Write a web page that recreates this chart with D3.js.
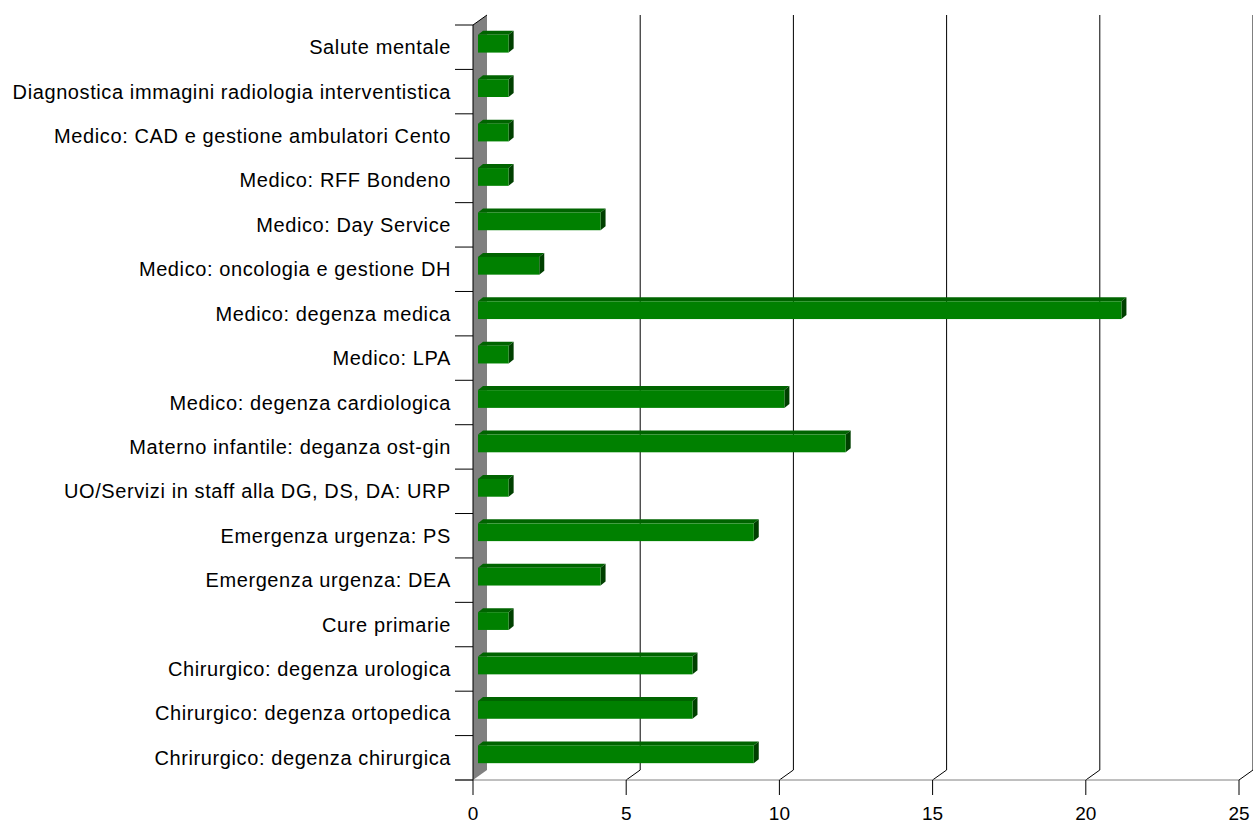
<!DOCTYPE html>
<html>
<head>
<meta charset="utf-8">
<script src="https://cdn.jsdelivr.net/npm/d3@7"></script>
<style>
  body { margin: 0; background: #fff; }
  text { font-family: "Liberation Sans", Arial, sans-serif; }
</style>
</head>
<body>
<svg id="plot" width="1253" height="825"></svg>
<script>
//categories top to bottom, as in the picture
let categories = [
  "Salute mentale",
  "Diagnostica immagini radiologia interventistica",
  "Medico: CAD e gestione ambulatori Cento",
  "Medico: RFF Bondeno",
  "Medico: Day Service",
  "Medico: oncologia e gestione DH",
  "Medico: degenza medica",
  "Medico: LPA",
  "Medico: degenza cardiologica",
  "Materno infantile: deganza ost-gin",
  "UO/Servizi in staff alla DG, DS, DA: URP",
  "Emergenza urgenza: PS",
  "Emergenza urgenza: DEA",
  "Cure primarie",
  "Chirurgico: degenza urologica",
  "Chirurgico: degenza ortopedica",
  "Chrirurgico: degenza chirurgica"
];
let values = [1, 1, 1, 1, 4, 2, 21, 1, 10, 12, 1, 9, 4, 1, 7, 7, 9];
let xTicks = [0, 5, 10, 15, 20, 25];

let svg = d3.select("#plot");

//front plane bounds
let plotLeft = 473, plotRight = 1239, plotTop = 25, plotBottom = 780;
//depth of the 3d box (back plane offset)
let depthX = 14, depthY = -10;
//bar sits in the middle of the depth
let barOffX = 5, barOffY = -3.5, barDX = 5, barDY = -4;

let x = d3.scaleLinear([0, 25], [plotLeft, plotRight]);
let y = d3.scaleBand(categories, [plotTop, plotBottom]).paddingInner(0.6).paddingOuter(0.3);
let yBand = d3.scaleBand(categories, [plotTop, plotBottom]);

//gray wall on the left
svg.append("path")
  .attr("d", `M${plotLeft},${plotTop} L${plotLeft + depthX},${plotTop + depthY} L${plotLeft + depthX},${plotBottom + depthY} L${plotLeft},${plotBottom} Z`)
  .attr("fill", "#808080");
svg.append("line")
  .attr("x1", plotLeft).attr("y1", plotTop).attr("x2", plotLeft + depthX).attr("y2", plotTop + depthY)
  .attr("stroke", "#000");

//gridlines on the back plane, with the diagonal down to the front axis
let grid = svg.append("g");
xTicks.filter(d => d > 0).forEach(d => {
  let xb = x(d) + depthX;
  grid.append("path")
    .attr("d", `M${x(d)},${plotBottom} L${xb},${plotBottom + depthY} L${xb},${plotTop + depthY}`)
    .attr("fill", "none")
    .attr("stroke", "#000")
    .attr("stroke-width", 1);
});

//bars: front face, top face, side face
let bars = svg.append("g").selectAll("g")
  .data(categories.map((c, i) => ({ cat: c, val: values[i] })))
  .join("g");

bars.each(function (d) {
  let g = d3.select(this);
  let x0 = x(0) + barOffX, x1 = x(d.val) + barOffX;
  let y0 = y(d.cat) + barOffY, y1 = y0 + y.bandwidth();
  g.append("path")
    .attr("d", `M${x0},${y0} L${x0 + barDX},${y0 + barDY} L${x1 + barDX},${y0 + barDY} L${x1},${y0} Z`)
    .attr("fill", "#006400");
  g.append("path")
    .attr("d", `M${x1},${y0} L${x1 + barDX},${y0 + barDY} L${x1 + barDX},${y1 + barDY} L${x1},${y1} Z`)
    .attr("fill", "#004000");
  g.append("rect")
    .attr("x", x0).attr("y", y0)
    .attr("width", x1 - x0).attr("height", y1 - y0)
    .attr("fill", "#008000");
});

//horizontal axis (gray line, black ticks)
svg.append("line")
  .attr("x1", 455).attr("x2", plotRight).attr("y1", plotBottom).attr("y2", plotBottom)
  .attr("stroke", "#808080");
let xAx = svg.append("g");
xTicks.forEach(d => {
  xAx.append("line")
    .attr("x1", x(d)).attr("x2", x(d)).attr("y1", plotBottom).attr("y2", plotBottom + 15)
    .attr("stroke", "#000");
  xAx.append("text")
    .attr("x", x(d)).attr("y", plotBottom + 40)
    .attr("text-anchor", "middle")
    .attr("font-size", 19)
    .text(d);
});

//vertical category axis
svg.append("line")
  .attr("x1", plotLeft).attr("x2", plotLeft).attr("y1", plotTop).attr("y2", plotBottom)
  .attr("stroke", "#000");
let bounds = categories.map(c => yBand(c)).concat([plotBottom]);
svg.append("g").selectAll("line")
  .data(bounds)
  .join("line")
  .attr("x1", 455).attr("x2", plotLeft)
  .attr("y1", d => d).attr("y2", d => d)
  .attr("stroke", "#000");

svg.append("g").selectAll("text")
  .data(categories)
  .join("text")
  .attr("x", 451)
  .attr("y", d => yBand(d) + yBand.bandwidth() / 2)
  .attr("dy", "0.35em")
  .attr("text-anchor", "end")
  .attr("font-size", 20)
  .attr("letter-spacing", 0.6)
  .text(d => d);
</script>
</body>
</html>
